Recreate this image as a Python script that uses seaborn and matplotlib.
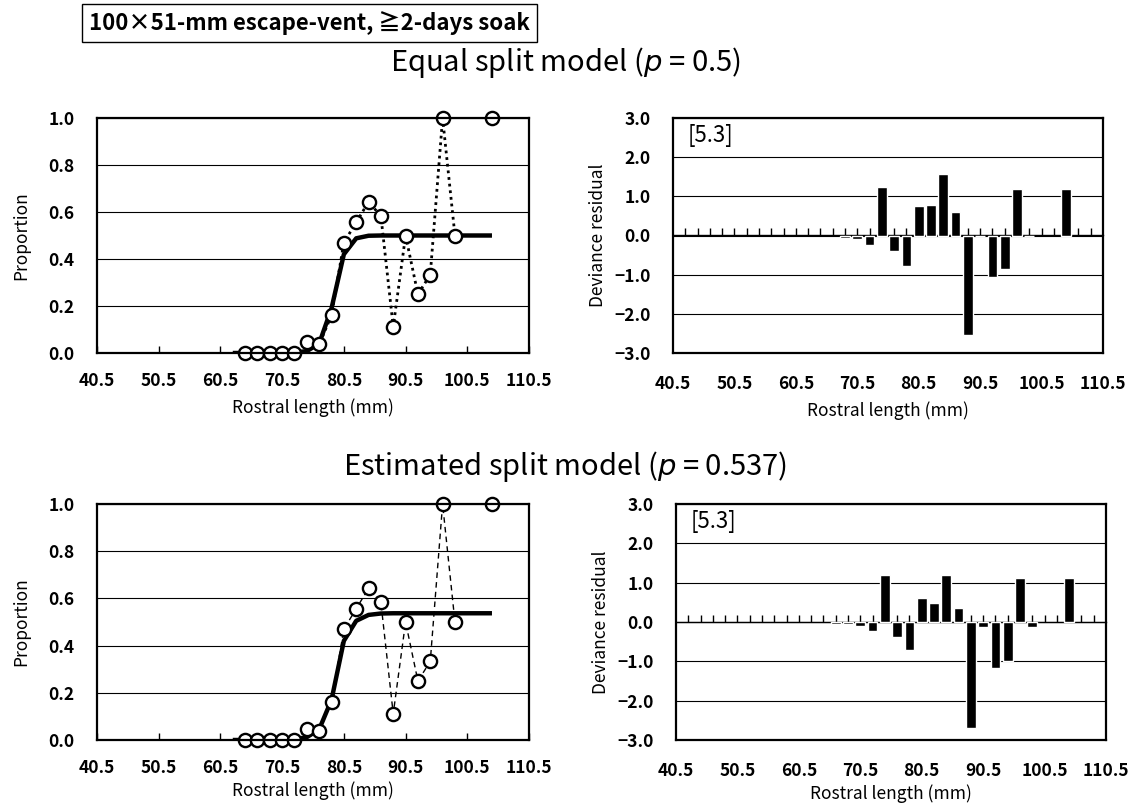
import numpy as np
import pandas as pd
import matplotlib
matplotlib.use("Agg")
import matplotlib.pyplot as plt
import seaborn as sns

# Observed retention proportions by 2-mm rostral-length class
length_mm = [64.5, 66.5, 68.5, 70.5, 72.5, 74.5, 76.5, 78.5, 80.5, 82.5,
             84.5, 86.5, 88.5, 90.5, 92.5, 94.5, 96.5, 98.5, 104.5]
observed = [0.0, 0.0, 0.0, 0.0, 0.0, 0.045, 0.037, 0.16, 0.47, 0.556,
            0.643, 0.583, 0.111, 0.5, 0.25, 0.333, 1.0, 0.5, 1.0]
segment = [0] * 18 + [1]

# Fitted selection curves
curve_mm = [62.5, 64.5, 66.5, 68.5, 70.5, 72.5, 74.5, 76.5, 78.5, 80.5, 82.5,
            84.5, 86.5, 88.5, 90.5, 92.5, 94.5, 96.5, 98.5, 100.5, 102.5, 104.5]
fit_equal = [0.0, 0.0, 0.0, 0.0, 0.0, 0.002, 0.008, 0.04, 0.19, 0.42, 0.488,
             0.499, 0.5, 0.5, 0.5, 0.5, 0.5, 0.5, 0.5, 0.5, 0.5, 0.5]
fit_est = [0.0, 0.0, 0.0, 0.0, 0.0, 0.003, 0.012, 0.045, 0.17, 0.42, 0.505,
           0.53, 0.536, 0.537, 0.537, 0.537, 0.537, 0.537, 0.537, 0.537, 0.537, 0.537]

# Deviance residuals
resid_mm_equal = [68.5, 70.5, 72.5, 74.5, 76.5, 78.5, 80.5, 82.5, 84.5, 86.5,
                  88.5, 90.5, 92.5, 94.5, 96.5, 98.5, 104.5]
resid_equal = [-0.06, -0.10, -0.23, 1.25, -0.39, -0.78, 0.75, 0.79, 1.58, 0.61,
               -2.53, 0.0, -1.05, -0.86, 1.20, 0.0, 1.20]
resid_mm_est = [66.5, 68.5, 70.5, 72.5, 74.5, 76.5, 78.5, 80.5, 82.5, 84.5, 86.5,
                88.5, 90.5, 92.5, 94.5, 96.5, 98.5, 104.5]
resid_est = [-0.04, -0.05, -0.11, -0.24, 1.19, -0.38, -0.72, 0.62, 0.49, 1.19, 0.35,
             -2.70, -0.12, -1.18, -1.00, 1.13, -0.12, 1.13]

x_ticks = [40.5, 50.5, 60.5, 70.5, 80.5, 90.5, 100.5, 110.5]
x_ticklabels = ["40.5", "50.5", "60.5", "70.5", "80.5", "90.5", "100.5", "110.5"]
prop_ticks = [0.0, 0.2, 0.4, 0.6, 0.8, 1.0]
prop_ticklabels = ["0.0", "0.2", "0.4", "0.6", "0.8", "1.0"]
resid_ticks = [-3, -2, -1, 0, 1, 2, 3]
resid_ticklabels = ["\u22123.0", "\u22122.0", "\u22121.0", "0.0", "1.0", "2.0", "3.0"]
class_ticks = np.arange(42.5, 109.0, 2.0)

sns.set_theme(style="white")
plt.rcParams["font.family"] = ["Noto Sans CJK JP", "DejaVu Sans"]
plt.rcParams["axes.unicode_minus"] = True

obs_df = pd.DataFrame({"mm": length_mm, "prop": observed, "seg": segment})

fig = plt.figure(figsize=(11.28, 8.06), dpi=100)

W, H = 1128.0, 806.0


def frame(ax):
    for s in ax.spines.values():
        s.set_color("black")
        s.set_linewidth(1.6)
        s.set_visible(True)


def style_axes(ax, ylabel, ylabelpad, xlabelpad):
    ax.set_xlim(40.5, 110.5)
    ax.set_xticks(x_ticks)
    ax.set_xticklabels(x_ticklabels)
    ax.yaxis.grid(True, color="black", lw=0.8)
    ax.xaxis.grid(False)
    ax.tick_params(axis="y", length=0, labelsize=12.5, pad=16, colors="black")
    for t in ax.get_xticklabels() + ax.get_yticklabels():
        t.set_fontweight("bold")
    ax.set_xlabel("Rostral length (mm)", fontsize=12.5, labelpad=xlabelpad,
                  color="black")
    ax.set_ylabel(ylabel, fontsize=12.5, labelpad=ylabelpad, color="black")
    frame(ax)


def proportion_panel(rect, fit, obs_ls, obs_lw, xlabelpad):
    ax = fig.add_axes(rect)
    sns.lineplot(x=curve_mm, y=fit, color="black", lw=3.2, ax=ax,
                 solid_capstyle="butt")
    sns.lineplot(data=obs_df, x="mm", y="prop", units="seg", estimator=None,
                 color="black", linestyle=obs_ls, lw=obs_lw, marker="o",
                 markersize=9.5, markerfacecolor="white", markeredgecolor="black",
                 markeredgewidth=1.7, clip_on=False, ax=ax)
    ax.set_ylim(0, 1)
    ax.set_yticks(prop_ticks)
    ax.set_yticklabels(prop_ticklabels)
    ax.tick_params(axis="x", direction="in", length=5, width=1, bottom=True,
                   labelsize=12.5, pad=14, colors="black")
    style_axes(ax, "Proportion", 13, xlabelpad)
    return ax


def residual_panel(rect, mm, resid, xlabelpad):
    ax = fig.add_axes(rect)
    sns.barplot(x=mm, y=resid, native_scale=True, color="black", width=0.8,
                errorbar=None, saturation=1, ax=ax)
    ax.set_ylim(-3, 3)
    ax.set_yticks(resid_ticks)
    ax.set_yticklabels(resid_ticklabels)
    ax.tick_params(axis="x", length=0, labelsize=12.5, pad=16, colors="black")
    style_axes(ax, "Deviance residual", 5, xlabelpad)
    # class marks along the zero line
    sec = ax.secondary_xaxis(0.5)
    sec.set_xticks(class_ticks)
    sec.tick_params(direction="out", length=5, width=1, colors="black",
                    labeltop=False, labelbottom=False)
    for s in sec.spines.values():
        s.set_linewidth(1.0)
        s.set_color("black")
    ax.text(0.035, 0.925, "[5.3]", transform=ax.transAxes, fontsize=16,
            va="center", ha="left", color="black")
    return ax


left_x, left_w = 97 / W, (529 - 97) / W
right_x, right_w = 673 / W, (1103 - 673) / W
top_b, top_h = 1 - 353 / H, (353 - 118) / H
bot_b, bot_h = 1 - 740 / H, (740 - 504) / H

proportion_panel([left_x, top_b, left_w, top_h], fit_equal, (0, (1, 1.4)), 2.0, 6)
residual_panel([right_x, top_b, right_w, top_h], resid_mm_equal, resid_equal, 6)
proportion_panel([left_x, bot_b, left_w, bot_h], fit_est, (0, (4, 3)), 1.0, 3)
residual_panel([right_x + 3 / W, bot_b, right_w, bot_h], resid_mm_est, resid_est, 3)

fig.text(89 / W, 1 - 23 / H, "100\u00d751-mm escape-vent, \u22672-days soak",
         fontsize=16, fontweight="bold", va="center", ha="left", color="black",
         bbox=dict(boxstyle="square,pad=0.3", fc="white", ec="black", lw=1.0))
fig.text(565 / W, 1 - 62 / H, r"Equal split model ($\it{p}$ = 0.5)",
         fontsize=21, ha="center", va="center", color="black")
fig.text(565 / W, 1 - 466 / H, r"Estimated split model ($\it{p}$ = 0.537)",
         fontsize=21, ha="center", va="center", color="black")

fig.savefig("out.png", dpi=100, facecolor="white")
